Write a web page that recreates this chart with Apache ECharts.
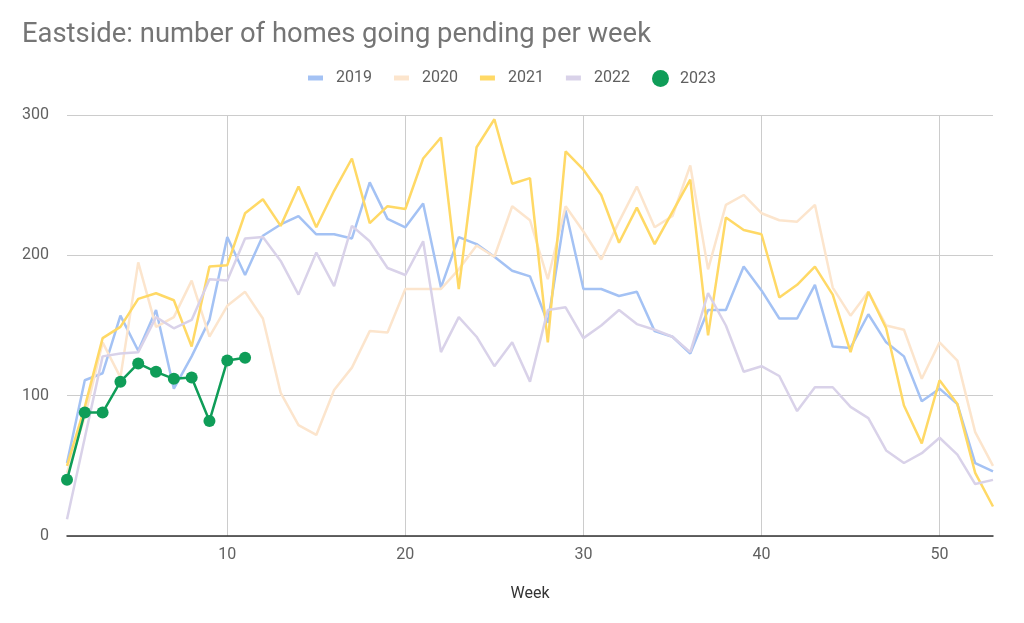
<!DOCTYPE html>
<html>
<head>
<meta charset="utf-8">
<script src="https://cdn.jsdelivr.net/npm/echarts@6/dist/echarts.min.js"></script>
<style>
html,body{margin:0;padding:0;background:#fff;}
#chart{width:1024px;height:623px;}
</style>
</head>
<body>
<div id="chart"></div>
<script>
var weeks = ['1','2','3','4','5','6','7','8','9','10','11','12','13','14','15','16','17','18','19','20','21','22','23','24','25','26','27','28','29','30','31','32','33','34','35','36','37','38','39','40','41','42','43','44','45','46','47','48','49','50','51','52','53'];
var seriesNames = ['2019','2020','2021','2022','2023'];
var y2019 = [52,111,116,157,132,161,105,128,154,213,186,214,222,228,215,215,212,252,226,220,237,177,213,208,199,189,185,152,232,176,176,171,174,146,142,130,161,161,192,175,155,155,179,135,134,158,138,128,96,105,94,52,46];
var y2020 = [45,85,138,113,195,149,156,182,142,164,174,155,102,79,72,104,120,146,145,176,176,176,190,207,199,235,225,183,235,217,197,224,249,220,228,264,190,236,243,230,225,224,236,177,157,174,150,147,112,138,125,74,50];
var y2021 = [50,92,141,149,169,173,168,135,192,193,230,240,221,249,220,246,269,223,235,233,269,284,176,277,297,251,255,138,274,261,243,209,234,208,231,254,143,227,218,215,170,179,192,172,131,174,148,93,66,111,94,45,21];
var y2022 = [12,70,128,130,131,156,148,154,183,182,212,213,196,172,202,178,221,210,191,186,210,131,156,142,121,138,110,161,163,141,150,161,151,147,142,131,173,150,117,121,114,89,106,106,92,84,61,52,59,70,58,37,40];
var y2023 = [40,88,88,110,123,117,112,113,82,125,127];
var yTicks = [0,100,200,300];

var colors = ['#a4c2f4','#fce5cd','#ffd966','#d9d2e9','#0f9d58'];
var font = 'Roboto, "Noto Sans", sans-serif';
var chart = echarts.init(document.getElementById('chart'));
function isTen(idx, val){ return Number(val) % 10 === 0; }
function lineSeries(name, data, color){
  return {name:name, type:'line', data:data, symbol:'none', showSymbol:false,
    lineStyle:{color:color, width:2.5}, itemStyle:{color:color}, z:2};
}
chart.setOption({
  animation:false,
  color:colors,
  title:{text:'Eastside: number of homes going pending per week', left:17, top:17,
    textStyle:{fontFamily:font, fontSize:27.4, fontWeight:'normal', color:'#757575'}},
  legend:[
    {data:seriesNames.slice(0,4), left:303, top:65, icon:'rect', itemWidth:15, itemHeight:5, itemGap:22,
      lineStyle:{width:5, cap:'butt'},
      textStyle:{fontFamily:font, fontSize:16, color:'#5f5f5f', padding:[0,0,0,8]}},
    {data:[{name:seriesNames[4], icon:'circle'}], left:647, top:65, itemWidth:17, itemHeight:17,
      textStyle:{fontFamily:font, fontSize:16, color:'#5f5f5f', padding:[0,0,0,6]}}
  ],
  grid:{left:67, right:31, top:115, bottom:87},
  xAxis:{type:'category', data:weeks, boundaryGap:false,
    name:'Week', nameLocation:'middle', nameGap:50,
    nameTextStyle:{fontFamily:font, fontSize:16, color:'#333'},
    axisLine:{show:true, lineStyle:{color:'#333', width:1.5}},
    axisTick:{show:false},
    axisLabel:{interval:isTen, fontFamily:font, fontSize:16, color:'#616161', margin:11},
    splitLine:{show:true, interval:isTen, lineStyle:{color:'#cccccc', width:1}}
  },
  yAxis:{type:'value', min:yTicks[0], max:yTicks[yTicks.length-1], interval:100,
    axisLine:{show:false}, axisTick:{show:false},
    axisLabel:{fontFamily:font, fontSize:16, color:'#616161', margin:18},
    splitLine:{lineStyle:{color:'#cccccc', width:1}}
  },
  series:[
    lineSeries('2019', y2019, colors[0]),
    lineSeries('2020', y2020, colors[1]),
    lineSeries('2021', y2021, colors[2]),
    lineSeries('2022', y2022, colors[3]),
    {name:'2023', type:'line', data:y2023, symbol:'circle', symbolSize:12, showSymbol:true, showAllSymbol:true,
      lineStyle:{color:colors[4], width:2.5}, itemStyle:{color:colors[4]}, z:5}
  ]
});
</script>
</body>
</html>
